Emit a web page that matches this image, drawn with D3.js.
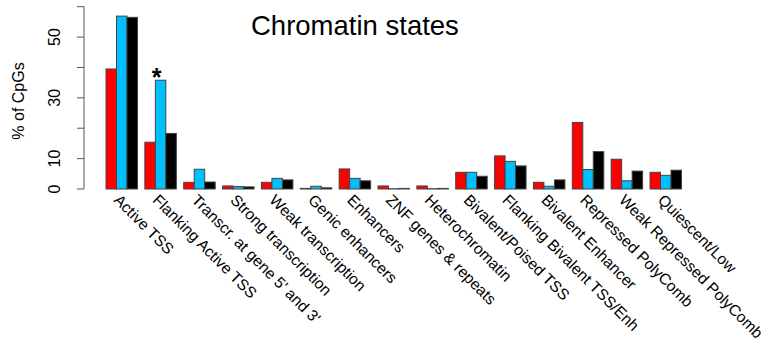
<!DOCTYPE html>
<html lang="en">
  <head>
    <meta charset="utf-8">
    <title>Chromatin states</title>
    <script src="https://d3js.org/d3.v7.min.js"></script>
    <style media="screen">
      body { margin: 0; background: #fff; }
      svg text { font-family: "Liberation Sans", Arial, sans-serif; }
    </style>
  </head>
  <body>
    <div id="chart"></div>
    <script type="text/javascript">
      // data
      let states = ["Active TSS", "Flanking Active TSS", "Transcr. at gene 5' and 3'",
        "Strong transcription", "Weak transcription", "Genic enhancers", "Enhancers",
        "ZNF genes & repeats", "Heterochromatin", "Bivalent/Poised TSS",
        "Flanking Bivalent TSS/Enh", "Bivalent Enhancer", "Repressed PolyComb",
        "Weak Repressed PolyComb", "Quiescent/Low"];
      let redVals   = [39.5, 15.4, 2.2, 1.0, 2.2, 0.2, 6.6, 1.0, 1.0, 5.5, 10.9, 2.2, 21.9, 9.8, 5.5];
      let blueVals  = [56.9, 35.8, 6.5, 0.8, 3.5, 0.9, 3.5, 0.1, 0.1, 5.5, 9.1, 0.9, 6.4, 2.7, 4.5];
      let blackVals = [56.5, 18.3, 2.3, 0.7, 3.0, 0.4, 2.7, 0.2, 0.2, 4.2, 7.6, 3.0, 12.3, 5.9, 6.2];
      let yTicks = [0, 10, 20, 30, 40, 50, 60];
      let yLabels = [0, 10, 30, 50];
      let colors = ["#ff0000", "#00bfff", "#000000"];

      let w = 770, h = 340;
      let svg = d3.select("#chart").append("svg")
        .attr("width", w)
        .attr("height", h);

      let x = d3.scaleBand().domain(states).range([106, 681.5]).paddingInner(0.19).paddingOuter(0);
      let xs = d3.scaleBand().domain([0, 1, 2]).range([0, x.bandwidth()]);
      let y = d3.scaleLinear().domain([0, 60]).range([189, 6.7]);

      let rows = states.map(function(s, i) {
        return { state: s, vals: [redVals[i], blueVals[i], blackVals[i]] };
      });

      let g = svg.selectAll("g.grp")
        .data(rows)
        .enter()
        .append("g")
        .attr("class", "grp")
        .attr("transform", d => "translate(" + x(d.state) + ",0)");

      g.selectAll("rect")
        .data(d => d.vals)
        .enter()
        .append("rect")
        .attr("x", (d, i) => xs(i))
        .attr("y", d => y(d))
        .attr("width", xs.bandwidth())
        .attr("height", d => y(0) - y(d))
        .attr("fill", (d, i) => colors[i])
        .attr("stroke", "#444")
        .attr("stroke-width", 1);

      // y axis (R style)
      let axisX = 84;
      svg.append("line")
        .attr("x1", axisX).attr("x2", axisX)
        .attr("y1", y(60)).attr("y2", y(0))
        .attr("stroke", "#555").attr("stroke-width", 1);
      svg.selectAll("line.tick")
        .data(yTicks)
        .enter()
        .append("line")
        .attr("class", "tick")
        .attr("x1", axisX - 7).attr("x2", axisX)
        .attr("y1", d => y(d)).attr("y2", d => y(d))
        .attr("stroke", "#555");
      svg.selectAll("text.ylab")
        .data(yLabels)
        .enter()
        .append("text")
        .attr("class", "ylab")
        .attr("transform", d => "translate(" + 60 + "," + y(d) + ") rotate(-90)")
        .attr("text-anchor", "middle")
        .attr("font-size", "16px")
        .text(d => d);

      svg.append("text")
        .attr("transform", "translate(24,101) rotate(-90)")
        .attr("text-anchor", "middle")
        .attr("font-size", "16px")
        .text("% of CpGs");

      // category labels, rotated
      svg.selectAll("text.xlab")
        .data(states)
        .enter()
        .append("text")
        .attr("class", "xlab")
        .attr("transform", d => "translate(" + (x(d) + 7) + ",201) rotate(45)")
        .attr("font-size", "15.6px")
        .text(d => d);

      svg.append("text")
        .attr("x", 251)
        .attr("y", 35)
        .attr("font-size", "27.5px")
        .text("Chromatin states");

      // asterisk over the blue Flanking Active TSS bar
      svg.append("text")
        .attr("x", x(states[1]) + xs(1) + xs.bandwidth() / 2 - 4)
        .attr("y", y(blueVals[1]) + 6)
        .attr("text-anchor", "middle")
        .attr("font-size", "25px")
        .attr("font-weight", "bold")
        .text("*");
    </script>
  </body>
</html>
